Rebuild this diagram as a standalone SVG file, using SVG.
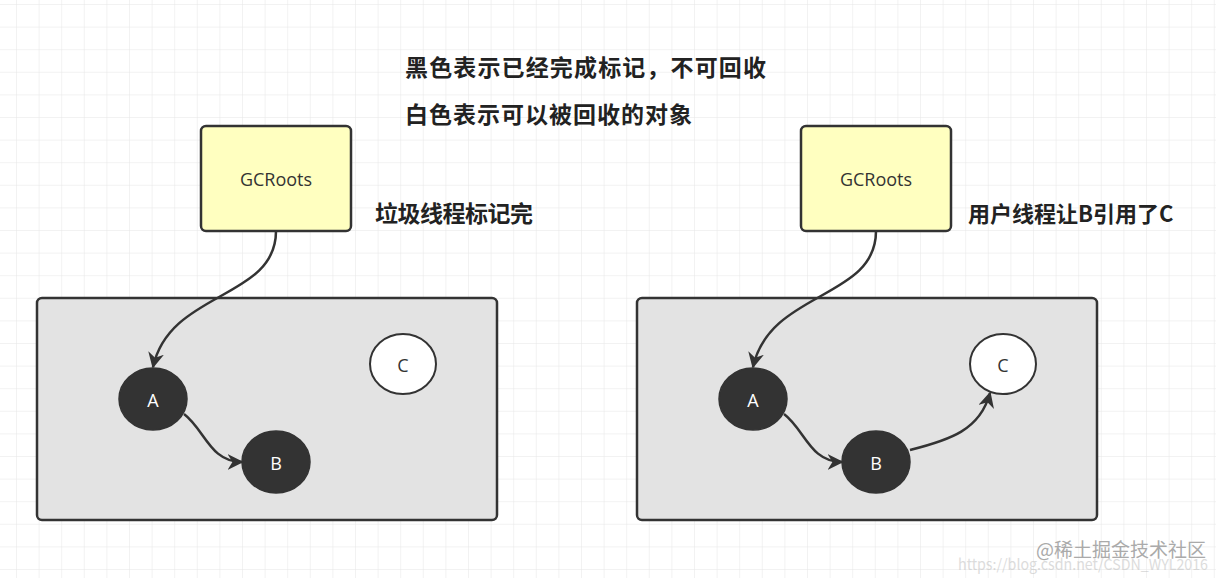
<svg xmlns="http://www.w3.org/2000/svg" width="1216" height="578" viewBox="0 0 1216 578">
<defs>
<pattern id="grid" width="22.6" height="22.6" patternUnits="userSpaceOnUse" x="16" y="4">
<path d="M0 0H22.6M0 0V22.6" fill="none" stroke="#e6e6e6" stroke-width="1"/>
</pattern>
<marker id="ar" viewBox="0 0 10 10" refX="9" refY="5" markerWidth="16" markerHeight="16" orient="auto" markerUnits="userSpaceOnUse">
<path d="M0 0L10 5L0 10L3 5Z" fill="#333"/>
</marker>
<style>
.area{fill:#e3e3e3;stroke:#333;stroke-width:2.5}
.root{fill:#ffffc0;stroke:#333;stroke-width:2.5}
.blk{fill:#333;stroke:#333;stroke-width:1.5}
.wht{fill:#fff;stroke:#333;stroke-width:2}
.t{font-family:"Open Sans","Liberation Sans",sans-serif;font-size:18px;text-anchor:middle;dominant-baseline:central}
.cn{font-family:"Noto Sans CJK SC",sans-serif;font-size:23px;font-weight:bold;fill:#222}
.e{fill:none;stroke:#333;stroke-width:2.5}
</style>
</defs>
<rect width="1216" height="578" fill="#fff"/>
<rect width="1216" height="578" fill="url(#grid)"/>
<g id="area1"><rect class="area" x="37" y="298" width="460" height="222" rx="5"/></g>
<g id="area2"><rect class="area" x="637" y="298" width="460" height="222" rx="5"/></g>
<g id="gc1"><rect class="root" x="201" y="126" width="150" height="105" rx="5"/><text class="t" x="276" y="179" fill="#333">GCRoots</text></g>
<g id="gc2"><rect class="root" x="801" y="126" width="150" height="105" rx="5"/><text class="t" x="876" y="179" fill="#333">GCRoots</text></g>
<g id="a1"><ellipse class="blk" cx="153" cy="399" rx="34" ry="31"/><text class="t" x="153" y="400" fill="#fff">A</text></g>
<g id="b1"><ellipse class="blk" cx="276" cy="462" rx="34" ry="31"/><text class="t" x="276" y="463" fill="#fff">B</text></g>
<g id="c1"><ellipse class="wht" cx="403" cy="364" rx="33" ry="30"/><text class="t" x="403" y="365" fill="#333">C</text></g>
<g id="a2"><ellipse class="blk" cx="753" cy="399" rx="34" ry="31"/><text class="t" x="753" y="400" fill="#fff">A</text></g>
<g id="b2"><ellipse class="blk" cx="876" cy="462" rx="34" ry="31"/><text class="t" x="876" y="463" fill="#fff">B</text></g>
<g id="c2"><ellipse class="wht" cx="1003" cy="364" rx="33" ry="30"/><text class="t" x="1003" y="365" fill="#333">C</text></g>
<g id="connectors">
<path class="e" marker-end="url(#ar)" d="M276 231C276 300 170 290 153 367"/>
<path class="e" marker-end="url(#ar)" d="M184 414C205 430 210 462 242 462"/>
<path class="e" marker-end="url(#ar)" d="M876 231C876 300 770 290 753 367"/>
<path class="e" marker-end="url(#ar)" d="M784 414C805 430 810 462 842 462"/>
<path class="e" marker-end="url(#ar)" d="M910 450C950 440 980 430 990 393"/>
</g>
<g id="labels">
<text class="cn" x="405" y="76" textLength="361">黑色表示已经完成标记，不可回收</text>
<text class="cn" x="405" y="123" textLength="287">白色表示可以被回收的对象</text>
<text class="cn" x="375" y="222" textLength="158">垃圾线程标记完</text>
<text class="cn" x="968" y="222" style="font-size:22px">用户线程让B引用了C</text>
</g>
<g id="watermark" font-family="Noto Sans CJK SC,sans-serif" fill="#bbb">
<text x="958" y="570" font-size="15" opacity="0.5" textLength="250" lengthAdjust="spacingAndGlyphs">https://blog.csdn.net/CSDN_WYL2016</text>
<text x="1036" y="557" font-size="19" fill="#aaa">@稀土掘金技术社区</text>
</g>
</svg>
